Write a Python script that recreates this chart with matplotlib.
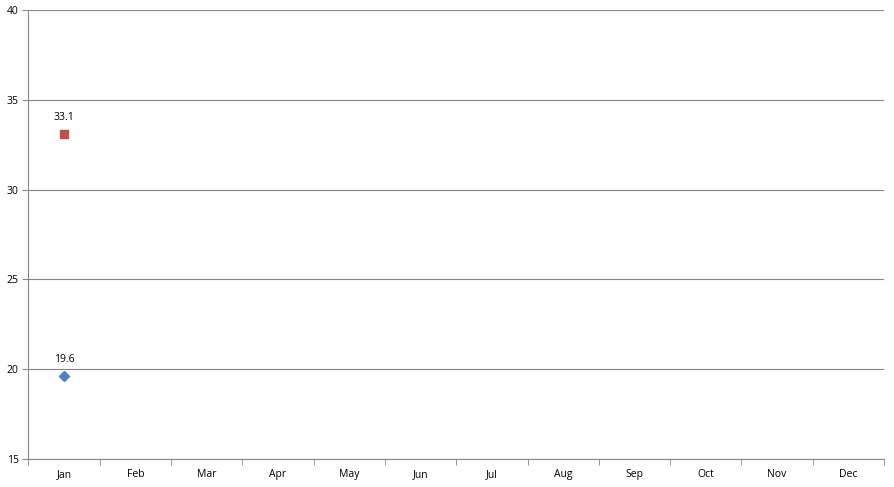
import numpy as np
import matplotlib.pyplot as plt

months = ['Jan', 'Feb', 'Mar', 'Apr', 'May', 'Jun',
          'Jul', 'Aug', 'Sep', 'Oct', 'Nov', 'Dec']
blue_vals = [19.6]
red_vals = [33.1]

plt.rcParams['font.family'] = ['Open Sans', 'DejaVu Sans']

fig = plt.figure(figsize=(8.95, 4.87), dpi=100)
ax = fig.add_axes([0.0318, 0.0575, 0.9559, 0.922])

grid_col = '#868686'
x = np.arange(len(months))

ax.plot(x[:len(blue_vals)], blue_vals, linestyle='none', marker='D',
        markersize=5, color='#4f81bd', zorder=3)
ax.plot(x[:len(red_vals)], red_vals, linestyle='none', marker='s',
        markersize=5.5, color='#c0504d', zorder=3)
for xi, v in zip(x, blue_vals):
    ax.annotate(f'{v:.1f}', (xi, v), xytext=(0, 8), textcoords='offset points',
                ha='center', va='bottom', fontsize=7.5)
for xi, v in zip(x, red_vals):
    ax.annotate(f'{v:.1f}', (xi, v), xytext=(0, 8), textcoords='offset points',
                ha='center', va='bottom', fontsize=7.5)

ax.set_xlim(-0.5, len(months) - 0.5)
ax.set_ylim(15, 40)
ax.set_yticks(np.arange(15, 41, 5))
ax.yaxis.grid(True, color=grid_col, linewidth=0.8)
ax.set_axisbelow(True)

ax.set_xticks(x)
ax.set_xticklabels(months)
ax.set_xticks(np.arange(-0.5, len(months)), minor=True)
ax.tick_params(axis='x', which='major', length=0, pad=7, labelsize=7.5)
ax.tick_params(axis='x', which='minor', length=4, color=grid_col, direction='out')
ax.tick_params(axis='y', length=4, color=grid_col, labelsize=7.5, pad=3)

for s in ['top', 'right']:
    ax.spines[s].set_visible(False)
for s in ['left', 'bottom']:
    ax.spines[s].set_color(grid_col)
    ax.spines[s].set_linewidth(0.8)

fig.savefig('out.png', dpi=100)
